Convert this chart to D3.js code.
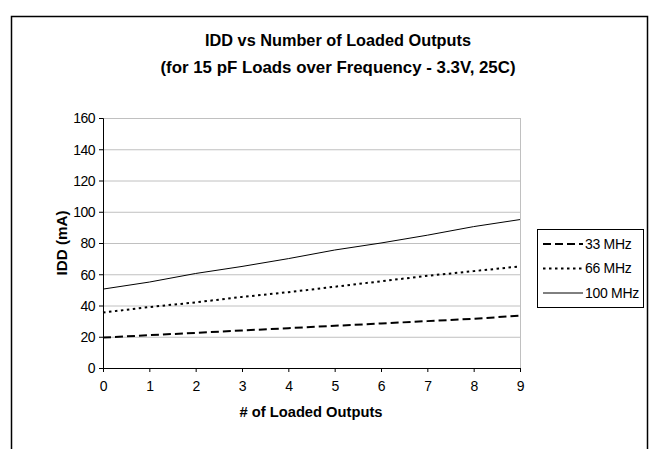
<!DOCTYPE html>
<html><head><meta charset="utf-8">
<script src="https://cdn.jsdelivr.net/npm/d3@7"></script>
<style>body{margin:0;background:#fff}svg{display:block}text{font-family:"Liberation Sans",Arial,sans-serif}</style>
</head><body>
<script>
const outputs = [0,1,2,3,4,5,6,7,8,9];
const seriesNames = ["33 MHz","66 MHz","100 MHz"];
const mhz33 = [19.5,21,22.5,24,25.5,27,28.5,30,31.5,33.5];
const mhz66 = [35.5,39,42,45.5,48.5,52,55.5,59,62,65];
const mhz100 = [50.5,55,60.5,65,70,75.5,80,85,90.5,95];
const yTicks = [0,20,40,60,80,100,120,140,160];
const titleLines = ["IDD vs Number of Loaded Outputs","(for 15 pF Loads over Frequency - 3.3V, 25C)"];
const xTitle = "# of Loaded Outputs";
const yTitle = "IDD (mA)";

const W=655,H=449;
const svg=d3.select("body").append("svg").attr("width",W).attr("height",H);
svg.append("rect").attr("x",11.5).attr("y",16.5).attr("width",636).attr("height",460)
  .attr("fill","#fff").attr("stroke","#000").attr("stroke-width",1.5);

const x=d3.scaleLinear().domain([0,9]).range([103,520]);
const y=d3.scaleLinear().domain([0,160]).range([368,118]);

// gridlines
svg.append("g").selectAll("line").data(yTicks.filter(d=>d>0)).join("line")
  .attr("x1",x(0)).attr("x2",x(9)).attr("y1",d=>y(d)+0.5).attr("y2",d=>y(d)+0.5)
  .attr("stroke","#c0c0c0").attr("stroke-width",1);
svg.append("line").attr("x1",x(9)+0.5).attr("x2",x(9)+0.5).attr("y1",y(160)).attr("y2",y(0))
  .attr("stroke","#c0c0c0");

// axes
const yAxis=svg.append("g").attr("transform",`translate(${x(0)},0)`)
  .call(d3.axisLeft(y).tickValues(yTicks).tickSize(4).tickPadding(4));
const xAxis=svg.append("g").attr("transform",`translate(0,${y(0)})`)
  .call(d3.axisBottom(x).tickValues(outputs).tickSize(4).tickPadding(9));
[yAxis,xAxis].forEach(g=>{
  g.select(".domain").attr("stroke","#000");
  g.selectAll("line").attr("stroke","#000");
  g.selectAll("text").attr("font-size",14).attr("fill","#000").attr("letter-spacing",-0.5)
    .style("font-family","'Liberation Sans',Arial,sans-serif");
});
yAxis.selectAll(".tick text").attr("dy","0.35em");

const styles=[{dash:"8,4",w:2},{dash:"2.5,3.5",w:2},{dash:null,w:1}];
const data=[mhz33,mhz66,mhz100];
const line=d3.line().x((d,i)=>x(outputs[i])).y(d=>y(d));
data.forEach((s,k)=>{
  svg.append("path").datum(s).attr("d",line).attr("fill","none").attr("stroke","#000")
    .attr("stroke-width",styles[k].w).attr("stroke-dasharray",styles[k].dash);
});

// titles
const titleLen=[266,355];
svg.selectAll(".title").data(titleLines).join("text")
  .attr("x",338).attr("y",(d,i)=>46+i*27).attr("text-anchor","middle")
  .attr("font-size",17).attr("font-weight","bold")
  .attr("textLength",(d,i)=>titleLen[i]).attr("lengthAdjust","spacingAndGlyphs").text(d=>d);
svg.append("text").attr("transform",`translate(67,${(y(0)+y(160))/2}) rotate(-90)`)
  .attr("text-anchor","middle").attr("font-size",14).attr("font-weight","bold")
  .attr("textLength",65).attr("lengthAdjust","spacingAndGlyphs").text(yTitle);
svg.append("text").attr("x",311).attr("y",417).attr("text-anchor","middle")
  .attr("font-size",14).attr("font-weight","bold")
  .attr("textLength",143).attr("lengthAdjust","spacingAndGlyphs").text(xTitle);

// legend
const lg=svg.append("g");
lg.append("rect").attr("x",537.5).attr("y",229.5).attr("width",106).attr("height",78)
  .attr("fill","#fff").attr("stroke","#000");
seriesNames.forEach((n,k)=>{
  const yy=244+k*24.5;
  lg.append("line").attr("x1",543).attr("x2",583).attr("y1",yy).attr("y2",yy)
    .attr("stroke","#000").attr("stroke-width",styles[k].w).attr("stroke-dasharray",styles[k].dash);
  lg.append("text").attr("x",585).attr("y",yy).attr("dy","0.35em").attr("font-size",14)
    .attr("letter-spacing",-0.3).text(n);
});
</script>
</body></html>
